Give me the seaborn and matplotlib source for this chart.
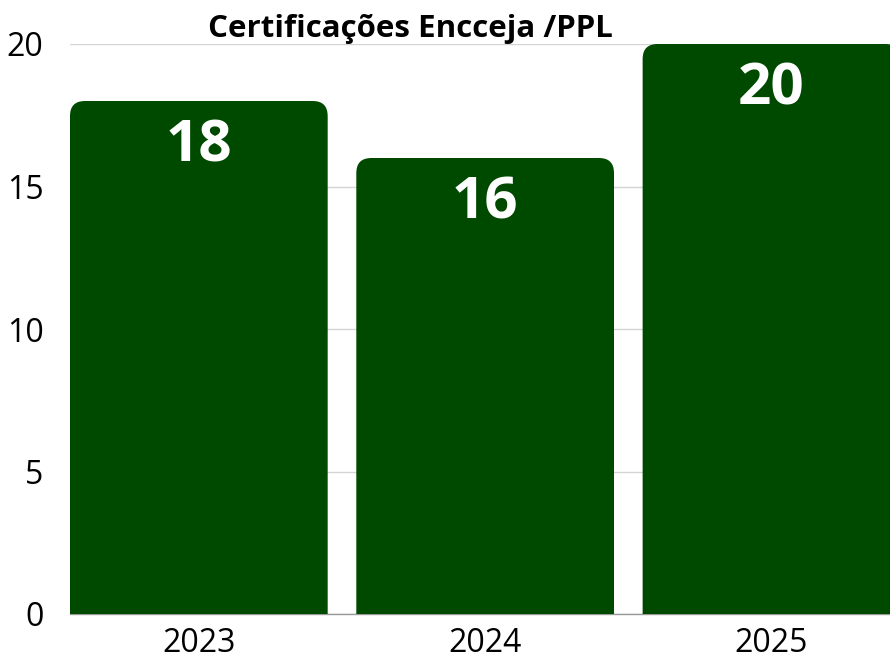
import matplotlib
matplotlib.use("Agg")
import matplotlib.pyplot as plt
import seaborn as sns
import pandas as pd
from matplotlib.patches import FancyBboxPatch

# data
anos = ["2023", "2024", "2025"]
certificacoes = [18, 16, 20]
titulo = "Certificações Encceja /PPL"

sns.set_theme(style="white")
plt.rcParams["font.family"] = ["Open Sans", "DejaVu Sans"]

df = pd.DataFrame({"ano": anos, "valor": certificacoes})

fig = plt.figure(figsize=(8.9, 6.57), dpi=100)
ax = fig.add_axes([70 / 890, 43 / 657, 820 / 890, 570 / 657])

verde = "#004a00"
sns.barplot(data=df, x="ano", y="valor", color=verde, width=0.9,
            saturation=1, ax=ax, zorder=2)

ax.set_xlim(-0.45, 2.414)
ax.set_ylim(0, 20)

# swap plain bars for bars with rounded tops
px_x = 820 / (2.414 + 0.45)
px_y = 570 / 20
raio = 15 / px_x
aspecto = (15 / px_y) / raio
for p in list(ax.patches):
    x0, w, h = p.get_x(), p.get_width(), p.get_height()
    p.remove()
    box = FancyBboxPatch((x0, -2), w, h + 2,
                         boxstyle=f"round,pad=0,rounding_size={raio}",
                         mutation_aspect=aspecto, facecolor=verde,
                         edgecolor="none", zorder=2)
    ax.add_patch(box)
    ax.text(x0 + w / 2, h - 1.6, f"{h:.0f}", ha="center", va="center",
            color="white", fontsize=42, fontweight="bold", zorder=3)

ax.set_yticks([0, 5, 10, 15, 20])
ax.yaxis.grid(True, color="#d4d4d4", linewidth=1, zorder=0)
ax.set_axisbelow(True)
for s in ["top", "right", "left"]:
    ax.spines[s].set_visible(False)
ax.spines["bottom"].set_color("#999999")
ax.spines["bottom"].set_linewidth(1)
ax.spines["bottom"].set_zorder(1)
ax.tick_params(axis="both", length=0, labelsize=23, colors="black")
ax.tick_params(axis="y", pad=19)
ax.tick_params(axis="x", pad=9)
ax.set_xlabel("")
ax.set_ylabel("")

fig.text(410 / 890, 1 - 29 / 657, titulo, ha="center", va="center",
         fontsize=22.5, fontweight="bold", color="black")

fig.savefig("out.png", dpi=100)
